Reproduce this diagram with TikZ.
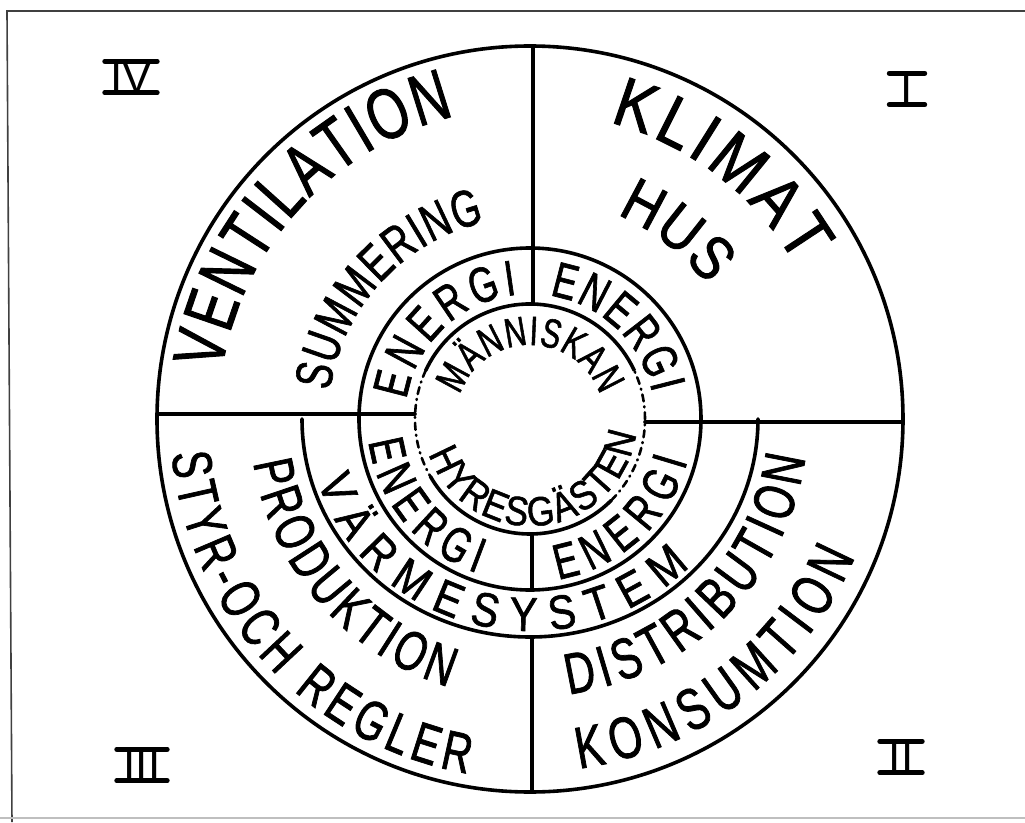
\documentclass[tikz,border=0pt]{standalone}
\usepackage{fontspec}
\setmainfont{Liberation Sans}
\newfontfamily\hand[FakeStretch=0.72,FakeBold=1.3]{Liberation Sans}
\newfontfamily\handw[FakeStretch=0.86,FakeBold=1.3]{Liberation Sans}
\usetikzlibrary{decorations.text}

\tikzset{
  ring/.style={line width=3.6pt, line cap=round},
  dashring/.style={line width=2.6pt, line cap=round, dash pattern=on 7pt off 5pt on 1pt off 5pt},
  arctext/.style 2 args={decorate, decoration={text along path, text={|\hand\fontsize{#1}{#1}\selectfont|#2}, text align={fit to path}}},
  arctextw/.style 2 args={decorate, decoration={text along path, text={|\handw\fontsize{#1}{#1}\selectfont|#2}, text align={fit to path}}},
  numeral/.style={inner xsep=0pt, inner ysep=0pt, text height=31pt, text depth=0pt, font=\fontsize{44}{44}\selectfont},
  bar/.style={line width=5pt, line cap=round},
  frame/.style={line width=1.6pt, draw=black!75}
}

\begin{document}
\begin{tikzpicture}[x=1pt,y=1pt]
\useasboundingbox (-530,-403) rectangle (495,419);
% frame
\draw[frame] (-518,-403) -- (-523,408) -- (495,408);
\draw[line width=1.2pt, draw=black!25] (-530,-399) -- (495,-399);

% rings
\coordinate (C) at (0,0);
\draw[ring] (C) circle[radius=373];
\draw[ring] (C) circle[radius=171];
\draw[ring] (-228,0) arc[start angle=180, end angle=360, x radius=228, y radius=218];
\draw[ring] (25:115) arc[start angle=25, end angle=155, radius=115];
\draw[ring] (210:115) arc[start angle=210, end angle=315, radius=115];
\draw[dashring] (155:115) arc[start angle=155, end angle=210, radius=115];
\draw[dashring] (-45:115) arc[start angle=-45, end angle=25, radius=115];

% dividers
\draw[ring] (-373,5) -- (-115,5);
\draw[ring] (115,-3) -- (373,-3);
\draw[ring] (3,115) -- (3,373);
\draw[ring] (2,-115) -- (2,-171);
\draw[ring] (2,-218) -- (2,-373);

% quadrant IV and I (tops outward)
\path[arctext={72}{VENTILATION}] (171:312) arc[start angle=171, end angle=104, radius=312];
\path[arctext={52}{SUMMERING}] (172:202) arc[start angle=172, end angle=103, radius=202];
\path[arctextw={70}{KLIMAT}] (75:307) arc[start angle=75, end angle=30, radius=307];
\path[arctextw={62}{HUS}] (67:222) arc[start angle=67, end angle=37, radius=222];
\path[arctext={50}{ENERGI}] (171:125) arc[start angle=171, end angle=96, radius=125];
\path[arctext={50}{ENERGI}] (81:125) arc[start angle=81, end angle=12, radius=125];
\path[arctext={41}{MÄNNISKAN}] (161:74) arc[start angle=161, end angle=19, radius=74];

% lower half (tops inward)
\path[arctextw={41}{HYRESGÄSTEN}] (199:107) arc[start angle=199, end angle=352, radius=107];
\path[arctext={50}{ENERGI}] (188:163) arc[start angle=188, end angle=251, radius=163];
\path[arctext={50}{ENERGI}] (280:163) arc[start angle=280, end angle=345, radius=163];
\path[arctextw={48}{VÄRMESYSTEM}] (197:222 and 212) arc[start angle=197, end angle=316, x radius=222, y radius=212];
\path[arctext={56}{PRODUKTION}] (189:280) arc[start angle=189, end angle=253, radius=280];
\path[arctext={56}{STYR-OCH REGLER}] (185.5:360) arc[start angle=185.5, end angle=260, radius=360];
\path[arctext={58}{DISTRIBUTION}] (278:278) arc[start angle=278, end angle=352, radius=278];
\path[arctext={59}{KONSUMTION}] (278:353) arc[start angle=278, end angle=337, radius=353];

% quadrant numerals
\node[numeral, minimum width=52pt] (q4) at (-399,342) {IV};
\node[numeral, minimum width=35pt] (q1) at (377,330) {I};
\node[numeral, minimum width=50pt] (q3) at (-388,-346) {III};
\node[numeral, minimum width=42pt] (q2) at (371,-338) {II};
\foreach \q in {q1,q2,q3,q4}{
  \draw[bar] (\q.north west) -- (\q.north east);
  \draw[bar] (\q.south west) -- (\q.south east);
}
\end{tikzpicture}
\end{document}
